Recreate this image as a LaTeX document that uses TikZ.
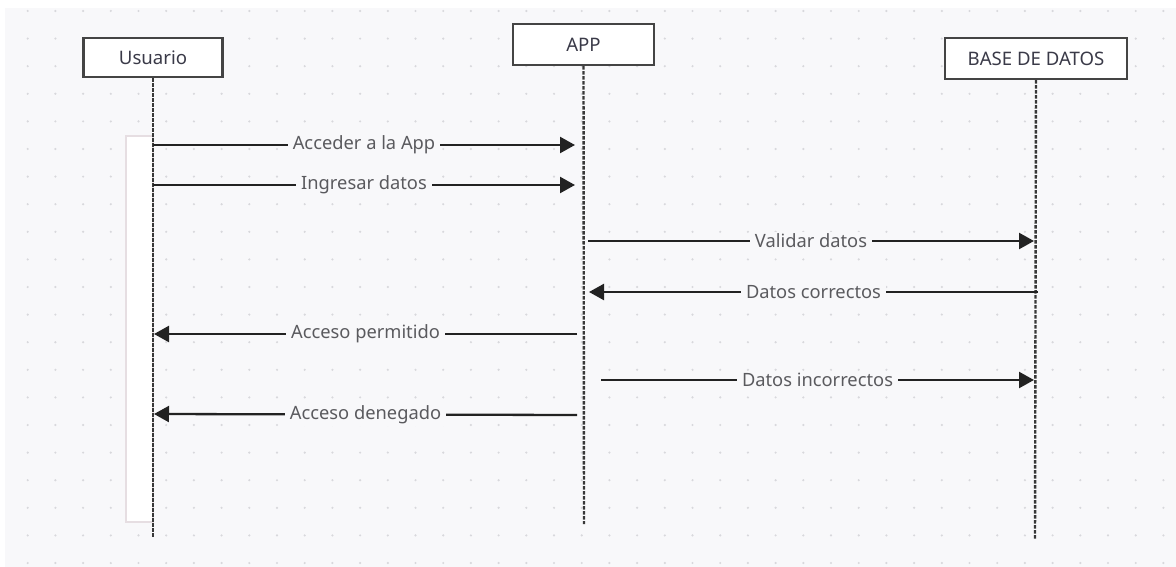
\documentclass[tikz,border=0pt]{standalone}
\usepackage{fontspec}
\setmainfont{Noto Sans}
\usetikzlibrary{arrows.meta}

\definecolor{bgcol}{HTML}{F8F8FA}
\definecolor{dotcol}{HTML}{D8D8DC}
\definecolor{inkcol}{HTML}{222222}
\definecolor{boxline}{HTML}{444444}
\definecolor{boxtext}{HTML}{3A3A48}
\definecolor{lblcol}{HTML}{5A5A5E}
\definecolor{actline}{HTML}{E6DEE2}

\begin{document}
\begin{tikzpicture}[x=1pt, y=-1pt,
    actor/.style={draw=boxline, line width=2.4pt, fill=white, text=boxtext,
      font=\fontsize{18.6}{22}\selectfont, inner sep=0pt},
    lifeline/.style={draw=inkcol!90!white, line width=2.4pt, dash pattern=on 3.5pt off 1.5pt},
    msg/.style={draw=inkcol, line width=2.3pt, -{Triangle[length=15pt,width=16pt]}},
    lbl/.style={fill=bgcol, text=lblcol, inner xsep=5pt, inner ysep=2pt,
      font=\fontsize{18.3}{22}\selectfont}]
    \useasboundingbox (0,0) rectangle (1176,567);
    \fill[bgcol] (5,8) rectangle (1176,567);
    \foreach \i in {1,...,42}
      \foreach \j in {0,...,20}
        \fill[dotcol] (27.7*\i, 11+27.6*\j) circle (1.2);

    % participantes
    \node[actor, minimum width=139, minimum height=39] (usr) at (153,57.5) {Usuario};
    \node[actor, minimum width=141, minimum height=41] (app) at (583.5,44.5) {APP};
    \node[actor, minimum width=182, minimum height=41] (bd) at (1036,58.5) {BASE DE DATOS};

    % activacion del usuario
    \node[draw=actline, line width=1.2pt, fill=white, minimum width=27, minimum height=386,
      inner sep=0pt] (act) at (139.5,329) {};

    % lineas de vida
    \coordinate (usr-end) at (153,538);
    \coordinate (app-end) at (584,524);
    \coordinate (bd-end) at (1035,540);
    \draw[lifeline] (usr.south) -- (usr-end);
    \draw[lifeline] (app.south) -- (app-end);
    \draw[lifeline] (bd.south) -- (bd-end);

    % mensajes
    \coordinate (u1) at (153,145); \coordinate (a1) at (575,145);
    \coordinate (u2) at (153,185); \coordinate (a2) at (575,185);
    \coordinate (a3) at (588,241); \coordinate (b3) at (1034,241);
    \coordinate (b4) at (1038,292); \coordinate (a4) at (589,292);
    \coordinate (a5) at (577,334); \coordinate (u5) at (154,334);
    \coordinate (a6) at (601,380); \coordinate (b6) at (1034,380);
    \coordinate (a7) at (577,415); \coordinate (u7) at (154,414);

    \draw[msg] (u1) -- node[lbl] {Acceder a la App} (a1);
    \draw[msg] (u2) -- node[lbl] {Ingresar datos} (a2);
    \draw[msg] (a3) -- node[lbl] {Validar datos} (b3);
    \draw[msg] (b4) -- node[lbl] {Datos correctos} (a4);
    \draw[msg] (a5) -- node[lbl] {Acceso permitido} (u5);
    \draw[msg] (a6) -- node[lbl] {Datos incorrectos} (b6);
    \draw[msg] (a7) -- node[lbl] {Acceso denegado} (u7);
\end{tikzpicture}
\end{document}
